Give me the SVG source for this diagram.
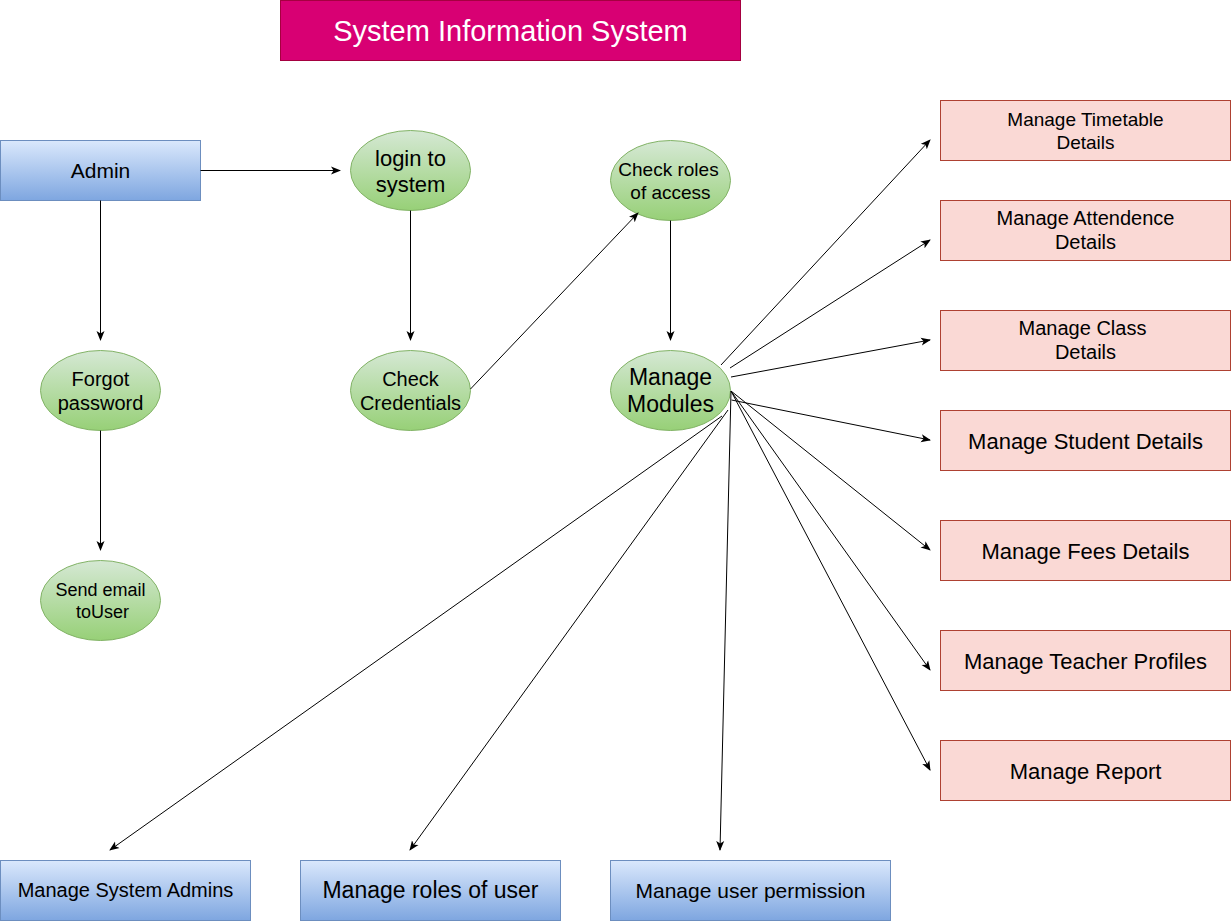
<svg xmlns="http://www.w3.org/2000/svg" width="1231" height="921" viewBox="0 0 1231 921">
<defs>
<linearGradient id="gBlue" x1="0" y1="0" x2="0" y2="1"><stop offset="0" stop-color="#dae8fc"/><stop offset="1" stop-color="#7ea6e0"/></linearGradient>
<linearGradient id="gGreen" x1="0" y1="0" x2="0" y2="1"><stop offset="0" stop-color="#d5e8d4"/><stop offset="1" stop-color="#97d077"/></linearGradient>
<marker id="arr" viewBox="0 0 10 10" refX="9" refY="5" markerWidth="10" markerHeight="10" markerUnits="userSpaceOnUse" orient="auto">
<path d="M0,1 L10,5 L0,9 L2.5,5 Z" fill="#000"/>
</marker>
</defs>
<style>
text{font-family:"Liberation Sans",Arial,sans-serif;text-anchor:middle;fill:#000}
.blue{fill:url(#gBlue);stroke:#6c8ebf;stroke-width:1}
.green{fill:url(#gGreen);stroke:#82b366;stroke-width:1}
.red{fill:#fad9d5;stroke:#ae4132;stroke-width:1}
.edge{stroke:#000;stroke-width:1;fill:none;marker-end:url(#arr)}
</style>
<rect width="1231" height="921" fill="#fff"/>
<g id="title">
<rect x="280.5" y="0.5" width="460" height="60" fill="#d80073" stroke="#a50040"/>
<text x="510.5" y="41" font-size="29" style="fill:#fff">System Information System</text>
</g>
<g id="admin"><rect class="blue" x="0.5" y="140.5" width="200" height="60"/><text x="100.5" y="178" font-size="21">Admin</text></g>
<g id="login"><ellipse class="green" cx="410.5" cy="170.5" rx="60" ry="40"/><text x="410.5" y="166" font-size="22">login to</text><text x="410.5" y="192" font-size="22">system</text></g>
<g id="checkroles"><ellipse class="green" cx="670.5" cy="180.5" rx="60" ry="40"/><text x="668.5" y="176" font-size="19">Check roles</text><text x="670.5" y="199" font-size="19">of access</text></g>
<g id="forgot"><ellipse class="green" cx="100.5" cy="390.5" rx="60" ry="40"/><text x="100.5" y="386" font-size="20">Forgot</text><text x="100.5" y="410" font-size="20">password</text></g>
<g id="checkcred"><ellipse class="green" cx="410.5" cy="390.5" rx="60" ry="40"/><text x="410.5" y="386" font-size="20">Check</text><text x="410.5" y="410" font-size="20">Credentials</text></g>
<g id="modules"><ellipse class="green" cx="670.5" cy="390.5" rx="60" ry="40"/><text x="670.5" y="385" font-size="23">Manage</text><text x="670.5" y="412" font-size="23">Modules</text></g>
<g id="sendemail"><ellipse class="green" cx="100.5" cy="600.5" rx="60" ry="40"/><text x="100.5" y="596" font-size="18">Send email</text><text x="102.5" y="618" font-size="18">toUser</text></g>
<g id="timetable"><rect class="red" x="940.5" y="100.5" width="290" height="60"/><text x="1085.5" y="126" font-size="19">Manage Timetable</text><text x="1085.5" y="149" font-size="19">Details</text></g>
<g id="attendence"><rect class="red" x="940.5" y="200.5" width="290" height="60"/><text x="1085.5" y="225" font-size="20">Manage Attendence</text><text x="1085.5" y="249" font-size="20">Details</text></g>
<g id="class"><rect class="red" x="940.5" y="310.5" width="290" height="60"/><text x="1082.5" y="335" font-size="20">Manage Class</text><text x="1085.5" y="359" font-size="20">Details</text></g>
<g id="student"><rect class="red" x="940.5" y="410.5" width="290" height="60"/><text x="1085.5" y="449" font-size="22">Manage Student Details</text></g>
<g id="fees"><rect class="red" x="940.5" y="520.5" width="290" height="60"/><text x="1085.5" y="559" font-size="22">Manage Fees Details</text></g>
<g id="teacher"><rect class="red" x="940.5" y="630.5" width="290" height="60"/><text x="1085.5" y="669" font-size="22">Manage Teacher Profiles</text></g>
<g id="report"><rect class="red" x="940.5" y="740.5" width="290" height="60"/><text x="1085.5" y="779" font-size="22">Manage Report</text></g>
<g id="sysadmins"><rect class="blue" x="0.5" y="860.5" width="250" height="60"/><text x="125.5" y="897" font-size="20">Manage System Admins</text></g>
<g id="rolesuser"><rect class="blue" x="300.5" y="860.5" width="260" height="60"/><text x="430.5" y="898" font-size="23">Manage roles of user</text></g>
<g id="permission"><rect class="blue" x="610.5" y="860.5" width="280" height="60"/><text x="750.5" y="898" font-size="21">Manage user permission</text></g>
<g id="connectors">
<line class="edge" x1="200.5" y1="170.5" x2="340" y2="170.5"/>
<line class="edge" x1="100.5" y1="200.5" x2="100.5" y2="340"/>
<line class="edge" x1="100.5" y1="430.5" x2="100.5" y2="550"/>
<line class="edge" x1="410.5" y1="210.5" x2="410.5" y2="340"/>
<line class="edge" x1="470.5" y1="389" x2="638" y2="213"/>
<line class="edge" x1="670.5" y1="220.5" x2="670.5" y2="340"/>
<line class="edge" x1="721" y1="365" x2="930" y2="140"/>
<line class="edge" x1="730" y1="368" x2="930" y2="240"/>
<line class="edge" x1="731" y1="377" x2="930" y2="340"/>
<line class="edge" x1="731.5" y1="400" x2="930" y2="440"/>
<line class="edge" x1="731" y1="391" x2="930" y2="550"/>
<line class="edge" x1="731" y1="391" x2="930" y2="670"/>
<line class="edge" x1="731" y1="391" x2="930" y2="770"/>
<line class="edge" x1="731" y1="391" x2="720" y2="850"/>
<line class="edge" x1="728" y1="410" x2="410" y2="850"/>
<line class="edge" x1="722" y1="416" x2="110" y2="850"/>
</g>
</svg>
